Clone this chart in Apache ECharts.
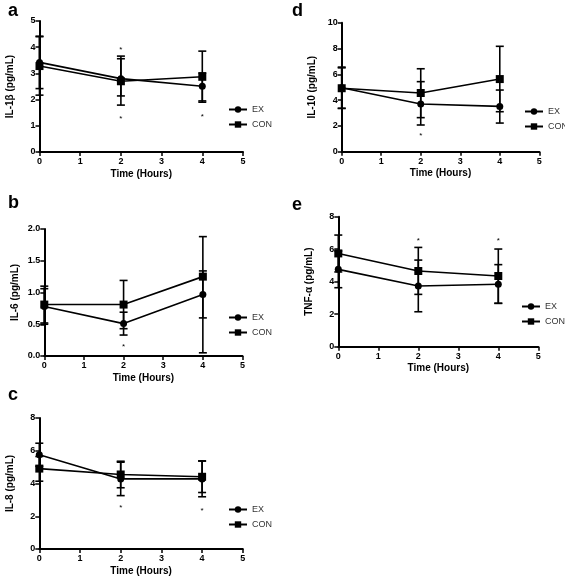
<!DOCTYPE html>
<html><head><meta charset="utf-8">
<script src="https://cdn.jsdelivr.net/npm/echarts@6/dist/echarts.min.js"></script>
<style>html,body{margin:0;padding:0;background:#fff}#c{width:565px;height:580px}</style>
</head><body><div id="c"></div>
<script>
// ---- data ----
var time = [0, 2, 4];
var xTicks = [0, 1, 2, 3, 4, 5];

// a: IL-1β
var aEX = [3.42, 2.80, 2.51], aEXlo = [2.42, 2.14, 1.95], aEXhi = [4.42, 3.56, 3.02];
var aCON = [3.28, 2.70, 2.87], aCONlo = [2.17, 1.79, 1.90], aCONhi = [4.40, 3.66, 3.85];
var aStars = [[2, 3.95], [2, 1.31], [4, 1.38]];
// b: IL-6
var bEX = [0.78, 0.51, 0.97], bEXlo = [0.50, 0.33, 0.05], bEXhi = [1.06, 0.69, 1.34];
var bCON = [0.81, 0.81, 1.25], bCONlo = [0.52, 0.43, 0.60], bCONhi = [1.10, 1.19, 1.88];
var bStars = [[2, 0.16]];
// c: IL-8
var cEX = [5.75, 4.28, 4.28], cEXlo = [5.05, 3.26, 3.19], cEXhi = [6.46, 5.30, 5.38];
var cCON = [4.91, 4.55, 4.41], cCONlo = [4.14, 3.74, 3.45], cCONhi = [5.65, 5.36, 5.37];
var cStars = [[2, 2.58], [4, 2.38]];
// d: IL-10
var dEX = [4.96, 3.70, 3.51], dEXlo = [3.36, 2.07, 2.22], dEXhi = [6.56, 5.43, 4.78];
var dCON = [4.92, 4.55, 5.63], dCONlo = [3.36, 2.64, 3.10], dCONhi = [6.50, 6.43, 8.17];
var dStars = [[2, 1.29]];
// e: TNF-α
var eEX = [4.76, 3.74, 3.84], eEXlo = [3.63, 2.15, 2.67], eEXhi = [5.89, 5.33, 5.05];
var eCON = [5.74, 4.66, 4.35], eCONlo = [4.60, 3.22, 2.67], eCONhi = [6.87, 6.11, 6.01];
var eStars = [[2, 6.56], [4, 6.56]];

var panelLetters = ['a', 'b', 'c', 'd', 'e'];
var yNames = ['IL-1β (pg/mL)', 'IL-6 (pg/mL)', 'IL-8 (pg/mL)', 'IL-10 (pg/mL)', 'TNF-α (pg/mL)'];
var yMax = [5, 2, 8, 10, 8];
var yInterval = [1, 0.5, 2, 2, 2];
var xName = 'Time (Hours)';
var seriesNames = ['EX', 'CON'];

// ---- layout ----
var FONT = '"Liberation Sans", Arial, sans-serif';
var grids = [
  {left: 39.5, top: 21, width: 203.5, height: 131},
  {left: 44.3, top: 229, width: 198.2, height: 127},
  {left: 39.3, top: 418, width: 203.5, height: 131},
  {left: 341.7, top: 22.7, width: 197.6, height: 129},
  {left: 338.3, top: 216.7, width: 200, height: 130}
];
var legendPos = [
  {left: 228, top: 105},
  {left: 228, top: 313},
  {left: 228, top: 505},
  {left: 524, top: 107},
  {left: 521, top: 302}
];
var letterPos = [[8, 2], [8, 194], [8, 386], [292, 2], [292, 196]];

var panels = [
  {ex: aEX, exLo: aEXlo, exHi: aEXhi, con: aCON, conLo: aCONlo, conHi: aCONhi, stars: aStars},
  {ex: bEX, exLo: bEXlo, exHi: bEXhi, con: bCON, conLo: bCONlo, conHi: bCONhi, stars: bStars},
  {ex: cEX, exLo: cEXlo, exHi: cEXhi, con: cCON, conLo: cCONlo, conHi: cCONhi, stars: cStars},
  {ex: dEX, exLo: dEXlo, exHi: dEXhi, con: dCON, conLo: dCONlo, conHi: dCONhi, stars: dStars},
  {ex: eEX, exLo: eEXlo, exHi: eEXhi, con: eCON, conLo: eCONlo, conHi: eCONhi, stars: eStars}
];

function errRender(params, api) {
  var x = api.value(0), lo = api.value(1), hi = api.value(2);
  var pLo = api.coord([x, lo]), pHi = api.coord([x, hi]);
  var w = 4;
  var st = {stroke: '#000', lineWidth: 1.6};
  return {type: 'group', children: [
    {type: 'line', shape: {x1: pLo[0], y1: pLo[1], x2: pHi[0], y2: pHi[1]}, style: st},
    {type: 'line', shape: {x1: pLo[0] - w, y1: pLo[1], x2: pLo[0] + w, y2: pLo[1]}, style: st},
    {type: 'line', shape: {x1: pHi[0] - w, y1: pHi[1], x2: pHi[0] + w, y2: pHi[1]}, style: st}
  ]};
}
function starRender(params, api) {
  var p = api.coord([api.value(0), api.value(1)]);
  return {type: 'text', x: p[0], y: p[1] + 1, style: {text: '*', fill: '#000', font: '8px ' + FONT, align: 'center', verticalAlign: 'middle'}};
}

var option = {
  animation: false,
  backgroundColor: '#fff',
  title: [], grid: [], xAxis: [], yAxis: [], legend: [], series: []
};

panels.forEach(function (p, i) {
  option.title.push({text: panelLetters[i], left: letterPos[i][0], top: letterPos[i][1], padding: 0,
    textStyle: {fontFamily: FONT, fontWeight: 'bold', fontSize: 18, color: '#000'}});
  option.grid.push(Object.assign({containLabel: false}, grids[i]));
  option.xAxis.push({
    type: 'value', gridIndex: i, min: xTicks[0], max: xTicks[xTicks.length - 1], interval: 1,
    name: xName, nameLocation: 'middle', nameGap: 17,
    nameTextStyle: {fontFamily: FONT, fontWeight: 'bold', fontSize: 10, color: '#000'},
    axisLine: {onZero: false, lineStyle: {color: '#000', width: 2}},
    axisTick: {length: 4, lineStyle: {color: '#000', width: 1.5}},
    axisLabel: {margin: 5, fontFamily: FONT, fontWeight: 'bold', fontSize: 9, color: '#000'},
    splitLine: {show: false}
  });
  option.yAxis.push({
    type: 'value', gridIndex: i, min: 0, max: yMax[i], interval: yInterval[i],
    name: yNames[i], nameLocation: 'middle', nameGap: 24, nameRotate: 90,
    nameTextStyle: {fontFamily: FONT, fontWeight: 'bold', fontSize: 10, color: '#000'},
    axisLine: {show: true, onZero: false, lineStyle: {color: '#000', width: 2}},
    axisTick: {show: true, length: 4, lineStyle: {color: '#000', width: 1.5}},
    axisLabel: {margin: 4, fontFamily: FONT, fontWeight: 'bold', fontSize: 9, color: '#000',
      formatter: yInterval[i] < 1 ? function (v) { return v.toFixed(1); } : function (v) { return String(v); }},
    splitLine: {show: false}
  });
  option.legend.push({
    data: seriesNames, orient: 'vertical', left: legendPos[i].left, top: legendPos[i].top,
    itemWidth: 18, itemHeight: 8, itemGap: 6, padding: 0, selectedMode: false,
    textStyle: {fontFamily: FONT, fontSize: 9, color: '#333'}
  });
  option.series.push({
    type: 'custom', name: 'errEX' + i, xAxisIndex: i, yAxisIndex: i, renderItem: errRender, z: 1,
    encode: {x: 0, y: [1, 2]},
    data: time.map(function (t, j) { return [t, p.exLo[j], p.exHi[j]]; })
  });
  option.series.push({
    type: 'custom', name: 'errCON' + i, xAxisIndex: i, yAxisIndex: i, renderItem: errRender, z: 1,
    encode: {x: 0, y: [1, 2]},
    data: time.map(function (t, j) { return [t, p.conLo[j], p.conHi[j]]; })
  });
  option.series.push({
    type: 'line', name: 'EX', xAxisIndex: i, yAxisIndex: i, z: 3,
    symbol: 'circle', symbolSize: 7, color: '#000',
    itemStyle: {color: '#000'}, lineStyle: {color: '#000', width: 1.6},
    data: time.map(function (t, j) { return [t, p.ex[j]]; })
  });
  option.series.push({
    type: 'line', name: 'CON', xAxisIndex: i, yAxisIndex: i, z: 3,
    symbol: 'rect', symbolSize: 8, color: '#000',
    itemStyle: {color: '#000'}, lineStyle: {color: '#000', width: 1.6},
    data: time.map(function (t, j) { return [t, p.con[j]]; })
  });
  option.series.push({
    type: 'custom', name: 'stars' + i, xAxisIndex: i, yAxisIndex: i, renderItem: starRender, z: 4,
    encode: {x: 0, y: 1},
    data: p.stars
  });
});

var chart = echarts.init(document.getElementById('c'), null, {renderer: 'canvas'});
chart.setOption(option);
</script>
</body></html>
